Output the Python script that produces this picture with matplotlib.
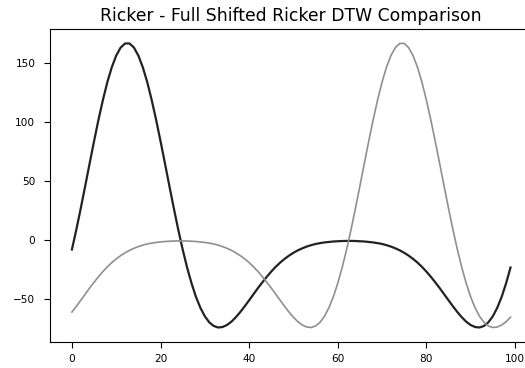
import numpy as np
import matplotlib
matplotlib.use("Agg")
import matplotlib.pyplot as plt

# sample index
x = np.arange(100)

# reference ricker (dark) and the shifted ricker (grey)
ricker_ref = [
    -8.3, 8.6, 26.7, 45.6, 64.8, 83.7, 101.9, 118.7, 133.8, 146.4,
    156.3, 163.1, 166.6, 166.6, 163.1, 156.3, 146.4, 133.8, 118.7, 101.9,
    83.7, 64.8, 45.6, 26.7, 8.6, -8.3, -23.6, -37.0, -48.5, -57.8,
    -65.0, -70.1, -73.2, -74.5, -74.1, -72.4, -69.6, -65.8, -61.4, -56.5,
    -51.4, -46.2, -41.0, -36.1, -31.4, -27.0, -23.0, -19.4, -16.3, -13.5,
    -11.1, -9.0, -7.3, -5.8, -4.6, -3.6, -2.9, -2.3, -1.9, -1.5,
    -1.3, -1.1, -1.0, -1.0, -1.1, -1.3, -1.5, -1.9, -2.3, -2.9,
    -3.6, -4.6, -5.8, -7.3, -9.0, -11.1, -13.5, -16.3, -19.4, -23.0,
    -27.0, -31.4, -36.1, -41.0, -46.2, -51.4, -56.5, -61.4, -65.8, -69.6,
    -72.4, -74.1, -74.5, -73.2, -70.1, -65.0, -57.8, -48.5, -37.0, -23.6,
]
ricker_shifted = [
    -61.4, -56.5, -51.4, -46.2, -41.0, -36.1, -31.4, -27.0, -23.0, -19.4,
    -16.3, -13.5, -11.1, -9.0, -7.3, -5.8, -4.6, -3.6, -2.9, -2.3,
    -1.9, -1.5, -1.3, -1.1, -1.0, -1.0, -1.1, -1.3, -1.5, -1.9,
    -2.3, -2.9, -3.6, -4.6, -5.8, -7.3, -9.0, -11.1, -13.5, -16.3,
    -19.4, -23.0, -27.0, -31.4, -36.1, -41.0, -46.2, -51.4, -56.5, -61.4,
    -65.8, -69.6, -72.4, -74.1, -74.5, -73.2, -70.1, -65.0, -57.8, -48.5,
    -37.0, -23.6, -8.3, 8.6, 26.7, 45.6, 64.8, 83.7, 101.9, 118.7,
    133.8, 146.4, 156.3, 163.1, 166.6, 166.6, 163.1, 156.3, 146.4, 133.8,
    118.7, 101.9, 83.7, 64.8, 45.6, 26.7, 8.6, -8.3, -23.6, -37.0,
    -48.5, -57.8, -65.0, -70.1, -73.2, -74.5, -74.1, -72.4, -69.6, -65.8,
]

fig = plt.figure(figsize=(5.25, 3.68), dpi=100)
ax = fig.add_axes([0.0952, 0.0715, 0.919, 0.849])

ax.plot(x, ricker_ref, color="#222222", linewidth=1.6)
ax.plot(x, ricker_shifted, color="#8f8f8f", linewidth=1.2)

ax.set_title("Ricker - Full Shifted Ricker DTW Comparison", fontsize=12.4, pad=6)
ax.set_xticks([0, 20, 40, 60, 80, 100])
ax.set_yticks([-50, 0, 50, 100, 150])
ax.tick_params(labelsize=7.6, length=4.5)
ax.tick_params(axis="x", pad=4.5)
ax.tick_params(axis="y", pad=6)

fig.savefig("out.png", dpi=100)
